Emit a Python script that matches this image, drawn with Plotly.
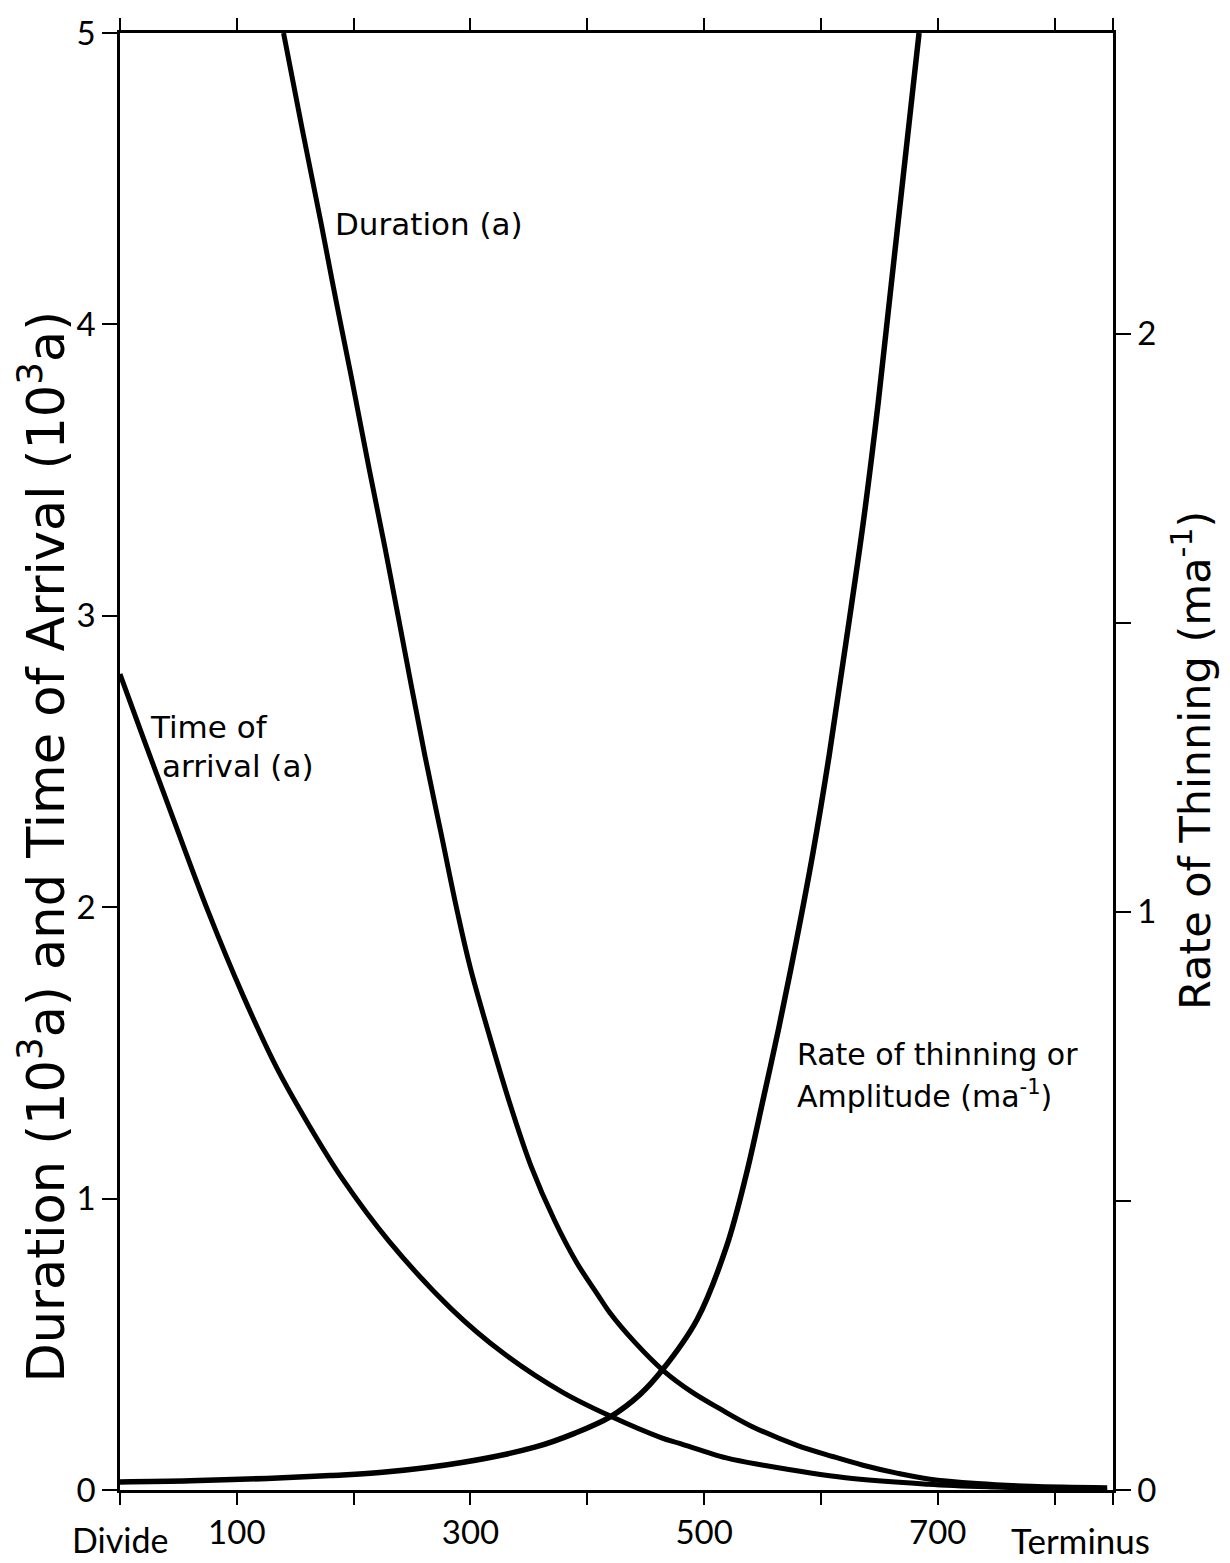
import plotly.graph_objects as go

# Distance from divide (km)
dur_x = [140, 156, 172, 185, 198, 213, 227, 238, 261, 275, 289, 300, 318, 335, 352, 372,
         391, 409, 419, 440, 465, 490, 513, 540, 579, 610, 636, 665, 692, 734, 780, 845]
# Duration (10^3 a)
dur_y = [5.0, 4.67, 4.35, 4.08, 3.82, 3.51, 3.23, 3.0, 2.52, 2.25, 1.98, 1.79, 1.535, 1.31,
         1.11, 0.925, 0.78, 0.67, 0.61, 0.51, 0.41, 0.335, 0.28, 0.22, 0.154, 0.115, 0.085,
         0.058, 0.038, 0.022, 0.013, 0.008]

toa_x = [0, 20, 45, 75, 105, 134, 162, 190, 230, 284, 328, 379, 420, 463, 479, 519, 551,
         621, 692, 749, 800, 845]
# Time of arrival (10^3 a)
toa_y = [2.80, 2.58, 2.31, 1.99, 1.70, 1.45, 1.25, 1.07, 0.855, 0.62, 0.47, 0.335, 0.253,
         0.18, 0.16, 0.11, 0.085, 0.042, 0.02, 0.01, 0.004, 0.0]

rate_x = [0, 60, 126, 180, 227, 294, 355, 389, 420, 445, 464, 494, 519, 536, 551, 564, 579,
          593, 607, 621, 636, 649, 664, 684]
# Rate of thinning / amplitude (m a^-1)
rate_y = [0.014, 0.016, 0.02, 0.025, 0.031, 0.048, 0.074, 0.098, 0.127, 0.165, 0.207, 0.295,
          0.42, 0.545, 0.68, 0.80, 0.95, 1.10, 1.27, 1.46, 1.67, 1.88, 2.155, 2.52]

x_tickvals = [0, 100, 200, 300, 400, 500, 600, 700, 800, 850]
x_ticktext = ["", "100", "", "300", "", "500", "", "700", "", ""]
left_tickvals = [0, 1, 2, 3, 4, 5]
left_ticktext = ["0", "1", "2", "3", "4", "5"]
right_tickvals = [0, 0.5, 1, 1.5, 2]
right_ticktext = ["0", "", "1", "", "2"]

FONT = "Lato, 'DejaVu Sans', sans-serif"
FONT2 = "'DejaVu Sans', sans-serif"
W, H = 1230, 1563
L, R, T, B = 120, 117, 30, 68

fig = go.Figure()
line_style = dict(color="black", width=5, shape="spline", smoothing=1.0)
fig.add_trace(go.Scatter(x=dur_x, y=dur_y, mode="lines", line=line_style, yaxis="y"))
fig.add_trace(go.Scatter(x=toa_x, y=toa_y, mode="lines", line=line_style, yaxis="y"))
fig.add_trace(go.Scatter(x=rate_x, y=rate_y, mode="lines",
                         line=dict(color="black", width=5.5, shape="spline", smoothing=1.0),
                         yaxis="y2"))

def px2paper_x(px):
    return (px - L) / (W - L - R)

def px2paper_y(py):
    return (H - B - py) / (H - B - T)

annotations = [
    dict(text="Duration (a)", x=px2paper_x(333), y=px2paper_y(222), xanchor="left", yanchor="middle", size=31, f=FONT2),
    dict(text="Time of", x=px2paper_x(148), y=px2paper_y(728), xanchor="left", yanchor="middle", size=31, f=FONT2),
    dict(text="arrival (a)", x=px2paper_x(160), y=px2paper_y(767), xanchor="left", yanchor="middle", size=31, f=FONT2),
    dict(text="Rate of thinning or", x=px2paper_x(795), y=px2paper_y(1057), xanchor="left", yanchor="middle", size=30, f=FONT2),
    dict(text="Amplitude (ma<sup>-1</sup>)", x=px2paper_x(795), y=px2paper_y(1097), xanchor="left", yanchor="middle", size=30, f=FONT2),
    dict(text="Divide", x=px2paper_x(120), y=px2paper_y(1545), xanchor="center", yanchor="middle", size=34, f=FONT),
    dict(text="Terminus", x=px2paper_x(1080), y=px2paper_y(1545), xanchor="center", yanchor="middle", size=35, f=FONT),
]
ann_objs = []
for a in annotations:
    ann_objs.append(dict(text=a["text"], x=a["x"], y=a["y"], xref="paper", yref="paper",
                         xanchor=a["xanchor"], yanchor=a["yanchor"], showarrow=False,
                         font=dict(family=a["f"], size=a["size"], color="black")))
ann_objs.append(dict(text="Duration (10<sup>3</sup>a) and Time of Arrival (10<sup>3</sup>a)",
                     x=px2paper_x(42), y=px2paper_y(848), xref="paper", yref="paper",
                     xanchor="center", yanchor="middle", textangle=-90, showarrow=False,
                     font=dict(family=FONT2, size=51, color="black")))
ann_objs.append(dict(text="Rate of Thinning (ma<sup>-1</sup>)",
                     x=px2paper_x(1192), y=px2paper_y(762), xref="paper", yref="paper",
                     xanchor="center", yanchor="middle", textangle=-90, showarrow=False,
                     font=dict(family=FONT2, size=43, color="black")))

fig.update_layout(
    width=W, height=H,
    margin=dict(l=L, r=R, t=T, b=B),
    paper_bgcolor="white", plot_bgcolor="white",
    showlegend=False,
    font=dict(family=FONT, color="black"),
    xaxis=dict(range=[0, 850], tickmode="array", tickvals=x_tickvals, ticktext=x_ticktext,
               ticks="outside", ticklen=12, tickwidth=2, tickcolor="black",
               showline=True, linecolor="black", linewidth=2.5, mirror="ticks",
               showgrid=False, zeroline=False, tickfont=dict(size=33, family=FONT)),
    yaxis=dict(range=[0, 5], tickmode="array", tickvals=left_tickvals, ticktext=left_ticktext,
               ticks="outside", ticklen=15, tickwidth=2, tickcolor="black",
               showline=True, linecolor="black", linewidth=2.5,
               showgrid=False, zeroline=False, tickfont=dict(size=33, family=FONT)),
    yaxis2=dict(range=[0, 2.52], overlaying="y", side="right", tickmode="array",
                tickvals=right_tickvals, ticktext=right_ticktext,
                ticks="outside", ticklen=15, tickwidth=2, tickcolor="black",
                showline=True, linecolor="black", linewidth=2.5,
                showgrid=False, zeroline=False, tickfont=dict(size=33, family=FONT)),
    annotations=ann_objs,
)

fig.write_html("out.html")
